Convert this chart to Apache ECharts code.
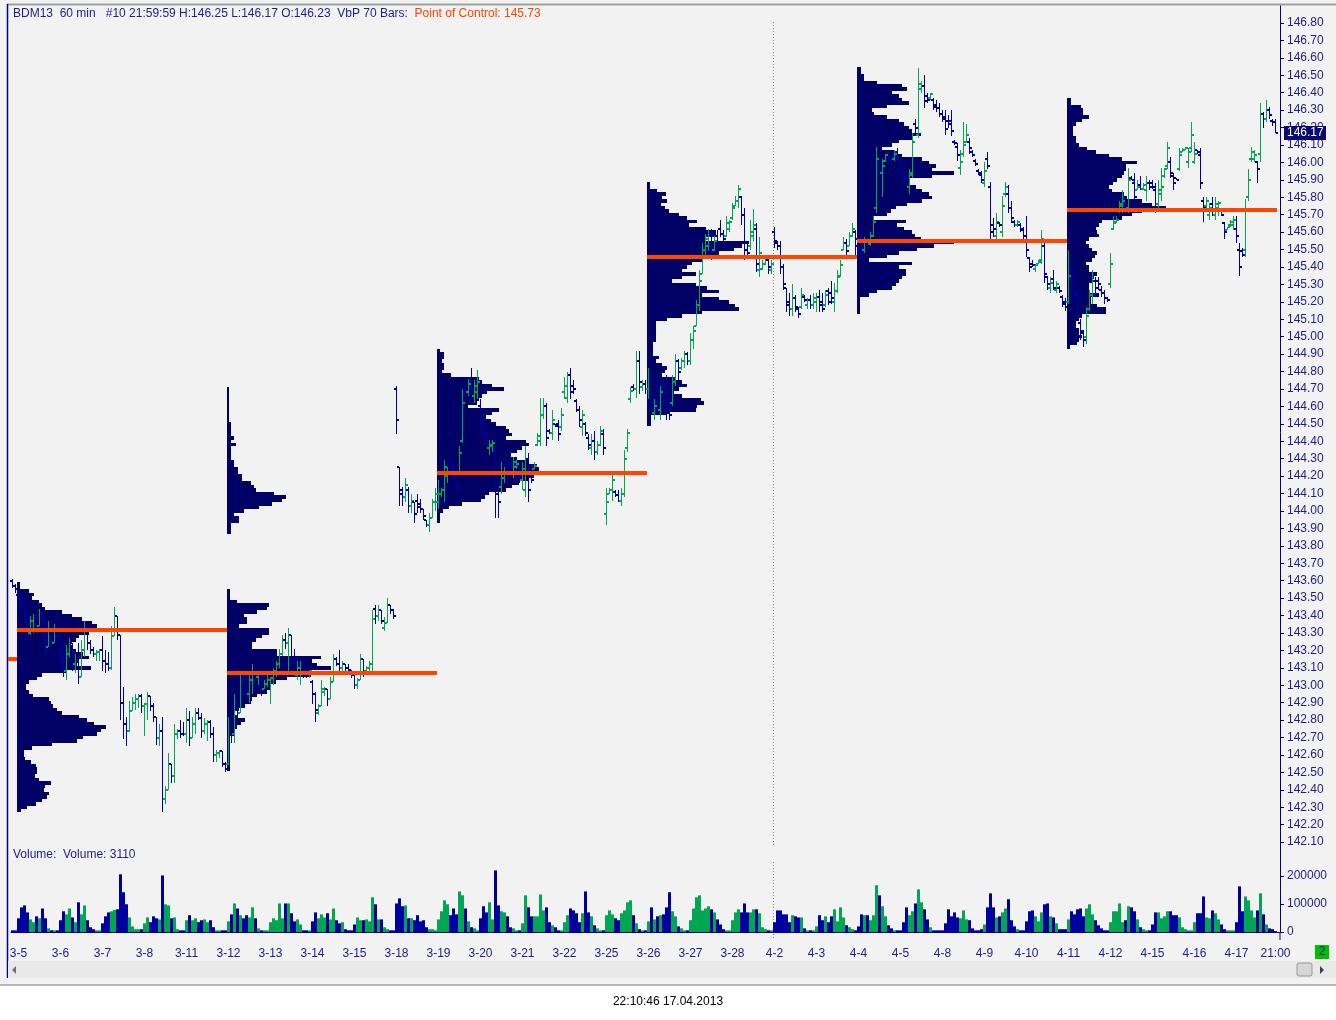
<!DOCTYPE html>
<html><head><meta charset="utf-8">
<script src="https://cdn.jsdelivr.net/npm/echarts@6/dist/echarts.min.js"></script>
<style>html,body{margin:0;padding:0;background:#fff;}#c{width:1336px;height:1020px;}</style>
</head><body><div id="c"></div>
<script>
// ---------------- DATA ----------------
const symbol = 'BDM13', timeframe = '60 min', barInfo = '#10 21:59:59';
const days = ['3-5','3-6','3-7','3-8','3-11','3-12','3-13','3-14','3-15','3-18','3-19','3-20','3-21','3-22','3-25','3-26','3-27','3-28','4-2','4-3','4-4','4-5','4-8','4-9','4-10','4-11','4-12','4-15','4-16','4-17'];
const lastTimeLabel = '21:00';
const monthStartDay = '4-2';
const statusText = '22:10:46 17.04.2013';
const BARS_PER_DAY = 14;

// hourly bars [open, high, low, close]
const tail34 = [[143.60,143.61,143.56,143.57],[143.57,143.58,143.53,143.55]];
const wk1 = [
[143.52,143.53,143.47,143.48],[143.48,143.50,143.44,143.45],[143.45,143.47,143.35,143.40],[143.40,143.42,143.27,143.30],[143.30,143.40,143.29,143.37],[143.37,143.41,143.30,143.38],[143.38,143.40,143.32,143.34],[143.34,143.44,143.34,143.42],[143.42,143.42,143.27,143.30],[143.30,143.37,143.16,143.22],[143.22,143.37,143.22,143.32],[143.32,143.35,143.20,143.24],[143.24,143.35,143.24,143.32],[143.32,143.36,143.23,143.28],
[143.28,143.28,143.12,143.15],[143.15,143.20,143.05,143.08],[143.08,143.23,143.03,143.18],[143.18,143.27,143.16,143.24],[143.24,143.24,143.08,143.12],[143.12,143.18,143.07,143.15],[143.15,143.24,143.01,143.05],[143.05,143.26,143.05,143.20],[143.20,143.37,143.16,143.33],[143.33,143.33,143.20,143.24],[143.24,143.26,143.18,143.20],[143.20,143.22,143.16,143.18],[143.18,143.20,143.14,143.19],[143.19,143.21,143.14,143.20],
[143.20,143.28,143.08,143.14],[143.14,143.20,143.07,143.12],[143.12,143.19,143.08,143.10],[143.10,143.34,143.09,143.28],[143.28,143.45,143.28,143.40],[143.40,143.40,143.26,143.29],[143.29,143.29,142.80,142.90],[142.90,142.99,142.69,142.78],[142.78,142.82,142.65,142.74],[142.74,142.91,142.73,142.85],[142.85,142.93,142.85,142.90],[142.90,142.95,142.86,142.92],[142.92,142.95,142.87,142.94],[142.94,142.95,142.84,142.88],
[142.88,142.90,142.71,142.89],[142.89,142.96,142.80,142.94],[142.94,142.94,142.85,142.88],[142.88,142.90,142.79,142.82],[142.82,142.82,142.66,142.70],[142.70,142.78,142.65,142.74],[142.74,142.82,142.27,142.35],[142.35,142.42,142.32,142.40],[142.40,142.61,142.40,142.55],[142.55,142.55,142.44,142.48],[142.48,142.78,142.44,142.72],[142.72,142.75,142.69,142.74],[142.74,142.80,142.70,142.72],[142.72,142.79,142.71,142.72],
[142.72,142.87,142.67,142.80],[142.80,142.85,142.65,142.70],[142.70,142.82,142.70,142.78],[142.78,142.87,142.72,142.84],[142.84,142.87,142.80,142.81],[142.81,142.84,142.70,142.74],[142.74,142.81,142.72,142.78],[142.78,142.80,142.68,142.79],[142.79,142.80,142.70,142.72],[142.72,142.76,142.56,142.60],[142.60,142.63,142.56,142.61],[142.61,142.63,142.58,142.62],[142.62,142.62,142.53,142.55],[142.55,142.56,142.50,142.52]];
const wk2 = [
[142.55,142.82,142.54,142.78],[142.78,142.84,142.67,142.72],[142.72,142.95,142.67,142.90],[142.90,142.91,142.81,142.84],[142.84,143.06,142.84,143.02],[143.02,143.06,142.92,142.96],[142.96,143.07,142.92,142.95],[142.95,143.06,142.90,143.03],[143.03,143.12,142.95,143.10],[143.10,143.10,143.01,143.05],[143.05,143.07,143.00,143.06],[143.06,143.06,142.94,142.98],[142.98,143.03,142.98,143.01],[143.01,143.06,142.99,143.03],
[143.03,143.05,142.89,143.04],[143.04,143.10,143.00,143.08],[143.08,143.14,143.05,143.12],[143.12,143.21,143.10,143.18],[143.18,143.29,143.17,143.26],[143.26,143.30,143.21,143.24],[143.24,143.33,143.06,143.29],[143.29,143.29,143.11,143.15],[143.15,143.21,143.12,143.13],[143.06,143.14,143.03,143.10],[143.10,143.14,143.00,143.11],[143.11,143.12,143.04,143.06],[143.08,143.10,143.04,143.07],[143.07,143.09,143.04,143.08],
[143.02,143.03,142.89,142.95],[142.95,142.96,142.79,142.86],[142.84,142.89,142.83,142.88],[142.88,143.03,142.88,142.98],[142.96,142.99,142.94,142.98],[142.98,142.98,142.88,142.92],[142.92,143.05,142.92,143.02],[143.02,143.18,143.02,143.15],[143.15,143.16,143.11,143.12],[143.12,143.20,143.06,143.10],[143.10,143.14,143.06,143.12],[143.12,143.12,143.07,143.10],[143.10,143.12,143.08,143.09],[143.09,143.09,143.04,143.06],
[143.06,143.08,142.98,143.00],[143.00,143.04,142.98,143.03],[143.03,143.18,143.03,143.15],[143.15,143.15,143.05,143.08],[143.08,143.11,143.06,143.10],[143.10,143.14,143.06,143.12],[143.12,143.43,143.08,143.38],[143.44,143.46,143.35,143.40],[143.40,143.46,143.37,143.43],[143.43,143.43,143.35,143.37],[143.33,143.39,143.31,143.36],[143.36,143.50,143.36,143.46],[143.46,143.46,143.41,143.43],[143.43,143.44,143.38,143.40],
[144.70,144.72,144.44,144.52],[144.25,144.25,144.03,144.10],[144.12,144.14,144.03,144.08],[144.08,144.19,144.05,144.15],[144.12,144.14,143.99,144.03],[144.03,144.10,143.99,144.06],[144.05,144.05,143.93,143.98],[144.06,144.10,143.99,144.02],[144.04,144.07,143.99,144.01],[144.01,144.01,143.95,143.97],[143.95,143.95,143.91,143.92],[143.92,143.99,143.88,143.96],[143.96,144.07,143.96,144.05],[144.05,144.13,144.00,144.10]];
const wk3 = [
[144.05,144.18,144.01,144.10],[144.10,144.13,144.08,144.12],[144.12,144.29,144.05,144.25],[144.20,144.25,144.16,144.22],[144.28,144.31,144.22,144.24],[144.24,144.27,144.18,144.20],[144.20,144.25,144.11,144.14],[144.22,144.37,144.21,144.33],[144.40,144.70,144.39,144.62],[144.70,144.73,144.66,144.68],[144.68,144.76,144.66,144.73],[144.75,144.82,144.67,144.70],[144.66,144.75,144.62,144.72],[144.68,144.81,144.64,144.74],
[144.60,144.64,144.48,144.52],[144.52,144.58,144.41,144.45],[144.45,144.47,144.37,144.40],[144.36,144.41,144.32,144.38],[144.37,144.41,144.34,144.39],[144.35,144.37,143.96,144.10],[144.10,144.29,143.96,144.05],[144.14,144.28,144.10,144.22],[144.19,144.25,144.16,144.22],[144.25,144.28,144.19,144.22],[144.27,144.29,144.22,144.24],[144.22,144.31,144.19,144.28],[144.25,144.29,144.24,144.27],[144.24,144.25,144.16,144.20],
[144.18,144.28,144.12,144.24],[144.12,144.37,144.08,144.30],[144.30,144.33,144.05,144.12],[144.20,144.23,144.16,144.18],[144.24,144.28,144.24,144.26],[144.38,144.45,144.37,144.43],[144.40,144.65,144.37,144.55],[144.55,144.65,144.53,144.60],[144.60,144.62,144.37,144.42],[144.46,144.47,144.44,144.45],[144.45,144.58,144.41,144.52],[144.50,144.50,144.48,144.49],[144.50,144.52,144.40,144.44],[144.48,144.59,144.46,144.55],
[144.68,144.77,144.64,144.72],[144.65,144.80,144.62,144.78],[144.78,144.82,144.64,144.68],[144.72,144.75,144.67,144.70],[144.63,144.64,144.57,144.58],[144.58,144.60,144.48,144.52],[144.48,144.58,144.43,144.55],[144.50,144.51,144.43,144.45],[144.42,144.44,144.35,144.38],[144.36,144.44,144.32,144.40],[144.40,144.46,144.29,144.34],[144.34,144.40,144.32,144.38],[144.38,144.49,144.37,144.46],[144.44,144.47,144.32,144.36],
[143.98,144.13,143.92,144.05],[144.10,144.13,144.10,144.12],[144.12,144.23,144.06,144.18],[144.11,144.12,144.08,144.09],[144.09,144.12,144.05,144.06],[144.06,144.13,144.03,144.10],[144.10,144.35,144.08,144.30],[144.36,144.47,144.34,144.45],[144.64,144.71,144.62,144.69],[144.71,144.73,144.69,144.70],[144.70,144.92,144.65,144.86],[144.86,144.92,144.67,144.74],[144.71,144.75,144.69,144.73],[144.73,144.75,144.67,144.70]];
const wk4 = [
[144.70,144.82,144.64,144.78],[144.78,144.78,144.58,144.62],[144.56,144.64,144.52,144.60],[144.72,144.78,144.55,144.62],[144.58,144.72,144.52,144.68],[144.70,144.76,144.60,144.64],[144.68,144.78,144.52,144.56],[144.62,144.65,144.52,144.55],[144.62,144.78,144.60,144.74],[144.74,144.90,144.72,144.86],[144.86,144.87,144.75,144.80],[144.82,144.88,144.81,144.86],[144.86,144.92,144.82,144.90],[144.90,144.91,144.84,144.86],
[144.86,145.02,144.84,144.98],[144.98,145.06,144.93,145.03],[145.06,145.21,145.06,145.18],[145.18,145.38,145.15,145.32],[145.36,145.54,145.36,145.50],[145.50,145.59,145.47,145.56],[145.52,145.62,145.49,145.58],[145.58,145.62,145.44,145.50],[145.50,145.58,145.49,145.55],[145.58,145.61,145.52,145.54],[145.62,145.67,145.57,145.59],[145.59,145.61,145.54,145.56],[145.58,145.69,145.57,145.65],[145.62,145.67,145.60,145.66],
[145.68,145.77,145.67,145.74],[145.75,145.81,145.75,145.78],[145.78,145.87,145.74,145.85],[145.80,145.81,145.64,145.70],[145.70,145.74,145.44,145.50],[145.50,145.53,145.47,145.48],[145.52,145.67,145.50,145.60],[145.58,145.73,145.55,145.64],[145.62,145.65,145.37,145.42],[145.38,145.57,145.34,145.48],[145.39,145.44,145.38,145.42],[145.42,145.47,145.41,145.45],[145.44,145.45,145.36,145.40],[145.38,145.44,145.36,145.42],
[145.60,145.63,145.51,145.55],[145.54,145.55,145.50,145.52],[145.52,145.55,145.36,145.40],[145.40,145.42,145.27,145.30],[145.28,145.28,145.14,145.18],[145.20,145.25,145.12,145.16],[145.16,145.30,145.12,145.22],[145.22,145.24,145.14,145.17],[145.16,145.17,145.11,145.13],[145.17,145.28,145.16,145.24],[145.23,145.24,145.20,145.21],[145.18,145.22,145.16,145.21],[145.21,145.24,145.16,145.18],[145.18,145.25,145.16,145.22],
[145.20,145.25,145.14,145.23],[145.23,145.27,145.14,145.18],[145.20,145.25,145.14,145.16],[145.18,145.27,145.17,145.24],[145.26,145.28,145.18,145.20],[145.25,145.32,145.19,145.22],[145.20,145.31,145.14,145.26],[145.26,145.38,145.25,145.34],[145.35,145.44,145.34,145.41],[145.50,145.57,145.50,145.54],[145.54,145.56,145.46,145.49],[145.52,145.60,145.52,145.58],[145.58,145.65,145.57,145.62],[145.60,145.61,145.46,145.52]];
const wk5 = [
[145.56,145.61,145.46,145.50],[145.55,145.60,145.45,145.52],[145.50,145.57,145.48,145.55],[145.56,145.57,145.50,145.52],[145.53,145.60,145.52,145.58],[145.58,145.69,145.57,145.66],[145.74,146.09,145.71,146.02],[146.00,146.02,145.93,145.95],[145.94,146.02,145.80,145.98],[146.01,146.05,146.00,146.04],[146.03,146.04,146.00,146.01],[146.03,146.05,146.01,146.02],[146.02,146.07,146.01,146.05],[146.06,146.08,146.01,146.03],
[146.01,146.03,145.93,145.96],[145.96,145.97,145.88,145.92],[145.91,145.92,145.84,145.87],[145.86,145.96,145.82,145.93],[145.94,146.17,145.91,146.12],[146.22,146.25,146.17,146.20],[146.16,146.54,146.14,146.45],[146.42,146.47,146.40,146.44],[146.44,146.50,146.31,146.35],[146.38,146.40,146.34,146.36],[146.37,146.40,146.36,146.39],[146.36,146.37,146.30,146.32],[146.33,146.36,146.29,146.31],[146.31,146.34,146.26,146.28],
[146.28,146.30,146.23,146.25],[146.26,146.30,146.16,146.19],[146.24,146.27,146.20,146.22],[146.24,146.30,146.15,146.18],[146.12,146.13,146.10,146.11],[146.09,146.11,146.01,146.04],[145.97,146.07,145.93,146.00],[146.05,146.23,146.03,146.10],[146.12,146.22,146.11,146.16],[146.12,146.14,146.05,146.08],[146.06,146.07,146.03,146.04],[146.01,146.02,145.98,145.99],[145.95,145.96,145.93,145.94],[145.93,145.95,145.88,145.90],
[145.88,146.00,145.86,145.95],[146.02,146.06,145.96,145.98],[145.86,145.89,145.56,145.60],[145.64,145.68,145.57,145.62],[145.58,145.71,145.54,145.66],[145.65,145.66,145.63,145.64],[145.60,145.81,145.57,145.75],[145.82,145.89,145.80,145.86],[145.82,145.87,145.71,145.74],[145.74,145.78,145.65,145.68],[145.66,145.67,145.63,145.64],[145.64,145.67,145.63,145.66],[145.64,145.65,145.60,145.61],[145.62,145.63,145.56,145.58],
[145.58,145.69,145.46,145.50],[145.45,145.46,145.37,145.40],[145.42,145.44,145.40,145.41],[145.39,145.42,145.37,145.41],[145.42,145.44,145.42,145.43],[145.44,145.61,145.42,145.56],[145.52,145.55,145.31,145.36],[145.34,145.35,145.27,145.30],[145.28,145.34,145.25,145.31],[145.33,145.38,145.27,145.28],[145.27,145.32,145.25,145.30],[145.28,145.29,145.25,145.26],[145.23,145.24,145.17,145.19],[145.20,145.22,145.15,145.17]];
const wk6 = [
[145.20,145.50,145.19,145.35],[145.38,145.44,145.21,145.27],[145.30,145.38,145.23,145.25],[145.24,145.27,145.11,145.14],[145.08,145.10,144.98,145.02],[145.03,145.04,144.94,144.98],[145.00,145.17,144.96,145.12],[145.16,145.27,145.15,145.24],[145.24,145.38,145.19,145.32],[145.32,145.34,145.23,145.28],[145.32,145.34,145.27,145.30],[145.27,145.29,145.23,145.25],[145.25,145.27,145.19,145.22],[145.22,145.23,145.20,145.21],
[145.30,145.48,145.28,145.42],[145.62,145.69,145.61,145.65],[145.66,145.69,145.65,145.67],[145.72,145.78,145.71,145.76],[145.75,145.84,145.71,145.78],[145.76,145.78,145.73,145.74],[145.74,145.97,145.71,145.90],[145.91,145.92,145.90,145.90],[145.88,145.94,145.73,145.80],[145.84,145.90,145.84,145.86],[145.87,145.92,145.84,145.85],[145.85,145.88,145.84,145.87],[145.84,145.92,145.78,145.88],[145.88,145.90,145.84,145.86],
[145.88,145.90,145.85,145.86],[145.84,145.88,145.71,145.76],[145.76,145.90,145.73,145.84],[145.82,145.97,145.78,145.86],[145.92,145.97,145.91,145.96],[145.98,146.12,145.96,146.08],[146.00,146.03,145.91,145.94],[145.92,145.94,145.84,145.88],[145.91,145.91,145.90,145.90],[145.96,146.08,145.95,146.04],[146.06,146.08,146.06,146.07],[146.07,146.09,146.07,146.08],[146.00,146.08,145.97,146.06],[146.08,146.23,146.06,146.16],
[146.00,146.12,145.99,146.05],[146.07,146.07,146.05,146.06],[146.04,146.08,145.85,145.88],[145.78,145.80,145.66,145.74],[145.75,145.80,145.73,145.78],[145.70,145.77,145.67,145.74],[145.76,145.80,145.69,145.72],[145.70,145.80,145.67,145.76],[145.74,145.78,145.69,145.77],[145.73,145.74,145.69,145.70],[145.65,145.66,145.56,145.60],[145.61,145.63,145.61,145.63],[145.64,145.67,145.63,145.66],[145.64,145.69,145.61,145.67],
[145.62,145.69,145.54,145.58],[145.50,145.54,145.35,145.40],[145.49,145.51,145.46,145.47],[145.50,145.79,145.46,145.72],[145.80,145.96,145.78,145.90],[146.02,146.09,146.00,146.06],[146.02,146.07,146.00,146.04],[146.00,146.01,145.88,145.96],[146.05,146.34,146.00,146.28],[146.28,146.29,146.20,146.25],[146.25,146.36,146.23,146.30],[146.30,146.32,146.25,146.27],[146.24,146.25,146.21,146.23],[146.23,146.25,146.17,146.17]];

// hourly volume, thousands of contracts
const vol34 = [6,6];
const volW1 = [49,88,95,70,45,35,56,49,84,49,13,6,6,6, 42,74,63,84,52,35,106,63,95,42,17,10,6,6, 31,56,70,74,79,81,206,142,99,52,20,10,10,10, 31,52,35,56,49,45,202,99,95,49,52,10,6,6, 42,60,42,49,35,42,45,35,42,17,6,6,6,6];
const volW2 = [38,63,102,84,60,49,60,52,88,49,13,6,6,6, 35,49,42,102,49,102,102,67,38,45,27,6,6,6, 38,70,49,63,52,67,45,84,42,31,35,10,6,6, 27,52,42,42,45,38,124,99,45,45,17,10,6,6, 102,120,92,95,49,49,42,60,38,42,17,10,10,6];
const volW3 = [45,74,113,99,60,84,63,145,131,84,38,17,13,6, 49,92,70,106,45,220,95,74,70,56,17,13,6,6, 31,131,88,56,56,56,134,77,88,35,24,17,6,6, 35,60,84,77,67,35,67,145,70,56,24,13,6,6, 60,77,63,49,42,67,77,106,113,60,31,10,6,6];
const volW4 = [38,88,45,56,60,63,88,142,74,56,20,13,6,6, 42,84,124,131,77,84,92,81,70,45,27,10,6,6, 42,70,81,70,102,70,70,81,81,67,17,10,6,6, 35,77,77,63,63,35,60,56,52,52,13,6,6,6, 20,60,42,56,35,56,81,38,88,52,24,17,10,6];
const volW5 = [20,63,60,60,42,60,167,131,92,56,24,13,6,6, 6,35,88,60,74,102,152,106,81,45,17,6,6,6, 6,31,81,56,70,52,49,77,45,42,13,6,6,10, 27,88,138,88,52,56,70,84,117,42,20,10,6,6, 38,74,77,56,38,70,99,102,56,52,31,10,10,10];
const volW6 = [45,74,63,81,84,56,84,99,63,42,24,13,6,6, 35,74,74,102,35,42,92,88,74,45,17,10,6,6, 27,70,70,49,56,74,74,60,60,52,17,10,6,6, 35,67,67,127,52,49,77,67,45,27,10,6,6,6, 35,163,74,127,113,77,52,77,138,63,27,13,10,3.11];

// weekly volume-by-price profiles (rows of 0.02, from top price downward; relative volume)
const PROFILE_STEP = 0.02;
const vbp1Top = 143.58, vbp1 = [3,3,12,17,15,22,25,28,45,55,65,75,80,82,72,62,59,54,56,59,66,72,62,60,74,49,25,20,12,9,9,12,16,32,34,36,40,45,62,70,77,89,84,80,66,60,35,15,7,7,8,14,19,20,20,18,22,34,28,27,32,30,25,19,10,4];
const vbp2Top = 144.70, vbp2 = [2,2,2,2,2,2,2,2,2,2,4,4,4,4,7,4,9,4,4,4,4,7,7,11,11,15,15,24,27,29,47,59,55,45,32,17,7,12,12,4,4,4,0,0,0,0,0,0,0,0,0,0,0,0,0,0,0,0,3,3,3,10,42,40,30,17,20,20,12,42,42,35,29,25,25,50,50,94,85,90,104,85,84,60,49,44,44,40,30,25,24,18,12,7,10,18,14,10,7,7,3,3,3,3,3,3,3,3,3,3];
const vbp3Top = 144.92, vbp3 = [3,7,7,5,7,7,5,14,42,45,55,67,50,45,42,40,31,62,55,49,54,59,69,72,75,69,89,92,85,80,74,80,92,100,102,99,97,92,82,75,69,52,48,44,25,12,6,3,3,3];
const vbp4Top = 145.88, vbp4 = [3,3,10,19,15,20,14,18,22,32,40,50,42,59,69,69,59,102,95,87,72,97,55,45,40,35,49,35,25,49,60,72,55,72,82,88,92,55,35,20,9,9,9,9,9,9,6,6,6,6,12,9,15,20,18,15,29,35,40,32,27,35,54,57,50,49,20,4,4,4];
const vbp5Top = 146.54, vbp5 = [4,4,7,7,20,45,50,35,42,45,52,30,15,17,30,42,47,52,55,64,55,42,35,25,38,45,65,72,79,75,97,75,52,52,59,65,72,75,65,50,39,34,30,17,49,40,47,55,58,64,97,77,60,42,30,12,55,42,49,49,45,42,39,35,20,12,3,3,3,3,3];
const vbp6Top = 146.36, vbp6 = [4,4,14,16,16,22,15,9,6,6,6,9,9,12,20,29,42,55,70,59,59,57,55,50,46,42,45,57,60,75,85,99,75,65,55,35,32,29,30,32,22,19,22,25,30,28,25,19,22,22,30,27,25,22,22,22,32,24,24,30,39,39,15,12,9,9,12,12,15,12,10,3];
// points of control: previous week (ending 3-4) then the six weeks
const pocPrev = 143.15;
const pocPrices = [143.32, 143.07, 144.22, 145.46, 145.55, 145.73];

// ---------------- BUILD ----------------
const NAVY = '#0000A0', GREEN = '#00A651', PROFILE_C = '#000066', POC_C = '#FF4500';
const AXIS_C = '#000080', TEXT_C = '#1C1C8C';
const FONT_FAMILY = '"Liberation Sans", Arial, sans-serif';
const FONT = '12px ' + FONT_FAMILY;
const PROFILE_PX = 1;

const allBars = [].concat(tail34, wk1, wk2, wk3, wk4, wk5, wk6);
const allVol = [].concat(vol34, volW1, volW2, volW3, volW4, volW5, volW6);
const categories = tail34.map(() => '');
days.forEach(d => { categories.push(d); for (let k = 1; k < BARS_PER_DAY; k++) categories.push(''); });
categories[categories.length - 1] = lastTimeLabel;
categories.push('');

const barData = allBars.map((b, i) => [i, b[0], b[1], b[2], b[3]]);
const volData = allVol.map((v, i) => ({ value: Math.round(v * 1000), itemStyle: { color: allBars[i][3] > allBars[i][0] ? GREEN : NAVY } }));

const weekLen = BARS_PER_DAY * 5;
const weekStart = k => tail34.length + weekLen * k;
const profiles = [[vbp1Top, vbp1], [vbp2Top, vbp2], [vbp3Top, vbp3], [vbp4Top, vbp4], [vbp5Top, vbp5], [vbp6Top, vbp6]];
const profData = [];
profiles.forEach(([top, rows], k) => rows.forEach((v, j) => { if (v > 0) profData.push([weekStart(k), +(top - j * PROFILE_STEP).toFixed(2), v]); }));
const pocData = [[-1, tail34.length - 1, pocPrev]].concat(pocPrices.map((p, k) => [weekStart(k), weekStart(k) + weekLen - 1, p]));

const labelShown = (idx, val) => val !== '';

const option = {
  animation: false,
  backgroundColor: '#F2F2F2',
  grid: [
    { left: 11, right: 56, top: 5.572, height: 853.97, containLabel: false, outerBoundsMode: 'none' },
    { left: 11, right: 56, top: 848, height: 84, containLabel: false, outerBoundsMode: 'none' }
  ],
  xAxis: [
    { type: 'category', gridIndex: 0, data: categories, show: false },
    { type: 'category', gridIndex: 1, data: categories, offset: 8,
      axisLine: { lineStyle: { color: AXIS_C, width: 1 } },
      axisTick: { interval: labelShown, alignWithLabel: true, length: 5, lineStyle: { color: AXIS_C } },
      axisLabel: { interval: labelShown, color: TEXT_C, fontSize: 12, fontFamily: FONT_FAMILY, margin: 8 },
      splitLine: { show: false } }
  ],
  yAxis: [
    { type: 'value', gridIndex: 0, position: 'right', min: 142.0, max: 146.9, interval: 0.1,
      axisLine: { show: true, lineStyle: { color: AXIS_C, width: 1 } },
      axisTick: { show: true, length: 4, lineStyle: { color: AXIS_C } },
      axisLabel: { color: TEXT_C, fontSize: 12, fontFamily: FONT_FAMILY, margin: 7, showMinLabel: false, showMaxLabel: false, formatter: v => v.toFixed(2) },
      splitLine: { show: false } },
    { type: 'value', gridIndex: 1, position: 'right', min: 0, max: 300000, interval: 100000,
      axisLine: { show: true, lineStyle: { color: AXIS_C, width: 1 } },
      axisTick: { show: true, length: 4, lineStyle: { color: AXIS_C } },
      axisLabel: { color: TEXT_C, fontSize: 12, fontFamily: FONT_FAMILY, margin: 7, showMaxLabel: false, formatter: v => String(Math.round(v)) },
      splitLine: { show: false } }
  ],
  series: [
    { type: 'custom', name: 'profile', xAxisIndex: 0, yAxisIndex: 0, z: 2, silent: true,
      data: profData, encode: { x: 0, y: 1 },
      renderItem: (params, api) => {
        const s = api.value(0), p = api.value(1), v = api.value(2);
        const bw = api.size([1, 0])[0];
        const x0 = Math.round(api.coord([s, p])[0] - bw / 2);
        const y0 = Math.round(api.coord([s, p + PROFILE_STEP / 2])[1]);
        const y1 = Math.round(api.coord([s, p - PROFILE_STEP / 2])[1]);
        return { type: 'rect', shape: { x: x0, y: y0, width: Math.round(v * PROFILE_PX), height: Math.max(1, y1 - y0) }, style: { fill: PROFILE_C } };
      } },
    { type: 'custom', name: 'bars', xAxisIndex: 0, yAxisIndex: 0, z: 3, silent: true,
      data: barData, encode: { x: 0, y: [2, 3] },
      renderItem: (params, api) => {
        const i = api.value(0), o = api.value(1), h = api.value(2), l = api.value(3), c = api.value(4);
        const pH = api.coord([i, h]), pL = api.coord([i, l]);
        const yo = Math.round(api.coord([i, o])[1]), yc = Math.round(api.coord([i, c])[1]);
        const x = Math.round(pH[0] - 0.5);
        const color = c > o ? GREEN : NAVY;
        const yTop = Math.round(pH[1]), yBot = Math.round(pL[1]);
        return { type: 'group', children: [
          { type: 'rect', shape: { x: x, y: yTop, width: 1, height: Math.max(1, yBot - yTop) }, style: { fill: color } },
          { type: 'rect', shape: { x: x - 2, y: yo - 1, width: 2, height: 2 }, style: { fill: color } },
          { type: 'rect', shape: { x: x + 1, y: yc - 1, width: 2, height: 2 }, style: { fill: color } }
        ] };
      } },
    { type: 'custom', name: 'poc', xAxisIndex: 0, yAxisIndex: 0, z: 4, silent: true,
      data: pocData, encode: { x: [0, 1], y: 2 },
      renderItem: (params, api) => {
        const s = api.value(0), e = api.value(1), p = api.value(2);
        const bw = api.size([1, 0])[0];
        const a = api.coord([s, p]), b = api.coord([e, p]);
        const x0 = a[0] - bw / 2, x1 = b[0] + bw / 2;
        return { type: 'rect', shape: { x: x0, y: Math.round(a[1] - 1.75), width: x1 - x0, height: 4 }, style: { fill: POC_C } };
      } },
    { type: 'bar', name: 'volume', xAxisIndex: 1, yAxisIndex: 1, barWidth: 3, silent: true, data: volData }
  ]
};

const chart = echarts.init(document.getElementById('c'));
chart.setOption(option);

// overlays derived from the data
const last = allBars[allBars.length - 1];
const lastVol = Math.round(allVol[allVol.length - 1] * 1000);
const yLast = chart.convertToPixel({ yAxisIndex: 0 }, last[3]);
const monthIdx = categories.indexOf(monthStartDay);
const xMonth = Math.round(chart.convertToPixel({ xAxisIndex: 0 }, monthIdx) - 1.5) + 0.5;
const y146_8 = chart.convertToPixel({ yAxisIndex: 0 }, 146.8);
const volZeroY = chart.convertToPixel({ yAxisIndex: 1 }, 0);
const axisX = 1336 - 56;

const titleMain = `${symbol}  ${timeframe}   ${barInfo} H:${last[1].toFixed(2)} L:${last[2].toFixed(2)} O:${last[0].toFixed(2)}  VbP ${weekLen} Bars:  `;
const titlePoc = `Point of Control: ${pocPrices[pocPrices.length - 1].toFixed(2)}`;

chart.setOption({ graphic: [
  { type: 'rect', z: -10, shape: { x: 0, y: 985, width: 1336, height: 35 }, style: { fill: '#FFFFFF' } },
  { type: 'line', z: 1, shape: { x1: 0, y1: 985, x2: 1336, y2: 985 }, style: { stroke: '#A0A0A0', lineWidth: 1.5 } },
  { type: 'line', z: 1, shape: { x1: 7, y1: 4.5, x2: 1336, y2: 4.5 }, style: { stroke: '#A0A0A0', lineWidth: 2 } },
  { type: 'line', z: 1, shape: { x1: 7.5, y1: 4, x2: 7.5, y2: 978 }, style: { stroke: AXIS_C, lineWidth: 1.5 } },
  { type: 'rect', z: 1, shape: { x: 8, y: 961, width: 1328, height: 17 }, style: { fill: '#E9E9E9' } },
  { type: 'polygon', z: 2, shape: { points: [[16, 966], [16, 974], [12, 970]] }, style: { fill: '#707070' } },
  { type: 'rect', z: 2, shape: { x: 1297, y: 963, width: 15, height: 13, r: 2 }, style: { fill: '#D6D6D6', stroke: '#9A9A9A', lineWidth: 1 } },
  { type: 'polygon', z: 2, shape: { points: [[1320, 966], [1320, 974], [1324, 970]] }, style: { fill: '#404040' } },
  { type: 'line', z: 1, shape: { x1: axisX, y1: volZeroY, x2: axisX, y2: volZeroY + 8 }, style: { stroke: AXIS_C, lineWidth: 1 } },
  { type: 'line', z: 1, shape: { x1: xMonth, y1: y146_8 - 1, x2: xMonth, y2: 845 }, style: { stroke: '#808080', lineWidth: 1, lineDash: [1, 2] } },
  { type: 'line', z: 1, shape: { x1: xMonth, y1: 862, x2: xMonth, y2: volZeroY + 8 }, style: { stroke: '#808080', lineWidth: 1, lineDash: [1, 2] } },
  { type: 'text', z: 20, x: 13, y: 14, style: { text: `{a|${titleMain}}{b|${titlePoc}}`, verticalAlign: 'middle',
      rich: { a: { fill: TEXT_C, font: FONT }, b: { fill: POC_C, font: FONT } } } },
  { type: 'text', z: 20, x: 13, y: 855, style: { text: `Volume:  Volume: ${lastVol}`, fill: TEXT_C, font: FONT, verticalAlign: 'middle' } },
  { type: 'rect', z: 30, shape: { x: 1284, y: Math.round(yLast - 7), width: 42, height: 14 }, style: { fill: '#0A0A6E' } },
  { type: 'text', z: 31, x: 1287, y: yLast, style: { text: last[3].toFixed(2), fill: '#FFFFFF', font: FONT, verticalAlign: 'middle' } },
  { type: 'rect', z: 20, shape: { x: 1315, y: 945, width: 14, height: 14 }, style: { fill: '#00C000' } },
  { type: 'text', z: 21, x: 1322, y: 952, style: { text: '2', fill: TEXT_C, font: FONT, align: 'center', verticalAlign: 'middle' } },
  { type: 'text', z: 20, x: 668, y: 1002, style: { text: statusText, fill: '#000000', font: FONT, align: 'center', verticalAlign: 'middle' } }
] });
</script></body></html>
